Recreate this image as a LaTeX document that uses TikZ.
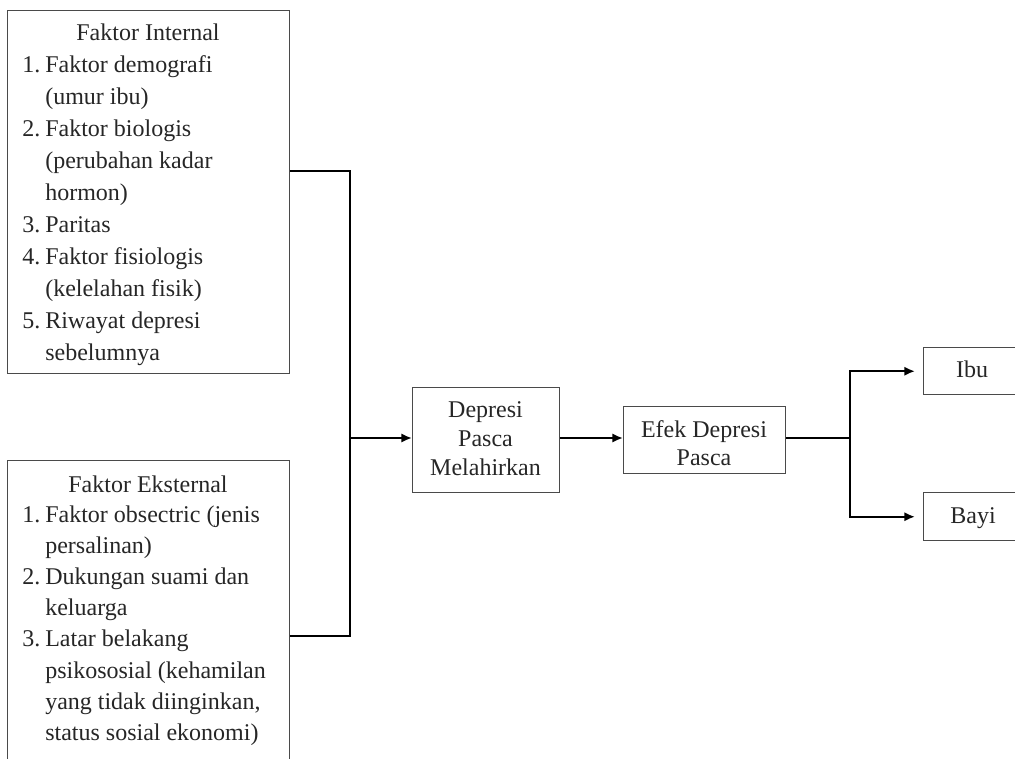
\documentclass[tikz,border=0pt]{standalone}
\usepackage{fontspec}
\setmainfont{Liberation Serif}
\usetikzlibrary{arrows.meta}
\definecolor{boxgray}{HTML}{4A4A4A}
\definecolor{txtgray}{HTML}{262626}
\newcommand{\ind}{\hspace*{17.25pt}}
\newcommand{\num}[1]{\makebox[17.25pt][l]{#1}}
\begin{document}
\begin{tikzpicture}[x=0.75pt,y=-0.75pt,
  box/.style={draw=boxgray, line width=1.1pt, rectangle, inner sep=0pt, anchor=north west},
  txt/.style={inner sep=0pt, text=txtgray},
  conn/.style={draw=black, line width=1.7pt},
  arr/.style={conn, -{Latex[length=8pt,width=7pt]}}]
\useasboundingbox (0,0) rectangle (1015,758);
\clip (0,0) rectangle (1015,758);
% boxes
\node[box, minimum width=211.5pt, minimum height=272.25pt] (int) at (7,10) {};
\node[box, minimum width=211.5pt, minimum height=247.5pt] (ext) at (7,460) {};
\node[box, minimum width=110.25pt, minimum height=78.75pt] (dep) at (412,387) {};
\node[box, minimum width=121.5pt, minimum height=50.25pt] (efek) at (623,406) {};
\node[box, minimum width=75pt, minimum height=35.25pt] (ibu) at (923,347) {};
\node[box, minimum width=75pt, minimum height=36pt] (bayi) at (923,492) {};
% texts
\node[txt, anchor=base, font=\fontsize{18}{24}\selectfont] (inthead) at (148,40) {Faktor Internal};
\node[txt, anchor=base west, font=\fontsize{18}{24}\selectfont] (intlist) at (22,72) {%
\begin{tabular}[t]{@{}l@{}}
\num{1.}Faktor demografi\\
\ind(umur ibu)\\
\num{2.}Faktor biologis\\
\ind(perubahan kadar\\
\ind hormon)\\
\num{3.}Paritas\\
\num{4.}Faktor fisiologis\\
\ind(kelelahan fisik)\\
\num{5.}Riwayat depresi\\
\ind sebelumnya
\end{tabular}};
\node[txt, anchor=base, font=\fontsize{18}{23.4}\selectfont] (exthead) at (148,492) {Faktor Eksternal};
\node[txt, anchor=base west, font=\fontsize{18}{23.4}\selectfont] (extlist) at (22,522) {%
\begin{tabular}[t]{@{}l@{}}
\num{1.}Faktor obsectric (jenis\\
\ind persalinan)\\
\num{2.}Dukungan suami dan\\
\ind keluarga\\
\num{3.}Latar belakang\\
\ind psikososial (kehamilan\\
\ind yang tidak diinginkan,\\
\ind status sosial ekonomi)
\end{tabular}};
\node[txt, anchor=base, font=\fontsize{18}{22}\selectfont] (deptext) at (485.5,417) {%
\begin{tabular}[t]{@{}c@{}}Depresi\\ Pasca\\ Melahirkan\end{tabular}};
\node[txt, anchor=base, font=\fontsize{18}{21}\selectfont] (efektext) at (704,437) {%
\begin{tabular}[t]{@{}c@{}}Efek Depresi\\ Pasca\end{tabular}};
\node[txt, anchor=base, font=\fontsize{18}{24}\selectfont] (ibutext) at (972,377) {Ibu};
\node[txt, anchor=base, font=\fontsize{18}{24}\selectfont] (bayitext) at (973,523) {Bayi};
% connectors
\coordinate (j1) at (350,438);
\coordinate (j2) at (850,438);
\draw[conn] (int.east |- 0,171) -| (j1);
\draw[conn] (ext.east |- 0,636) -| (j1);
\draw[arr] (j1) -- (dep.west |- j1);
\draw[arr] (dep.east |- j1) -- (efek.west |- j1);
\draw[conn] (efek.east |- j2) -- (j2);
\draw[arr, shorten >=6pt] (j2) |- (ibu.west);
\draw[arr, shorten >=6pt] (j2) |- (bayi.west);
\end{tikzpicture}
\end{document}
